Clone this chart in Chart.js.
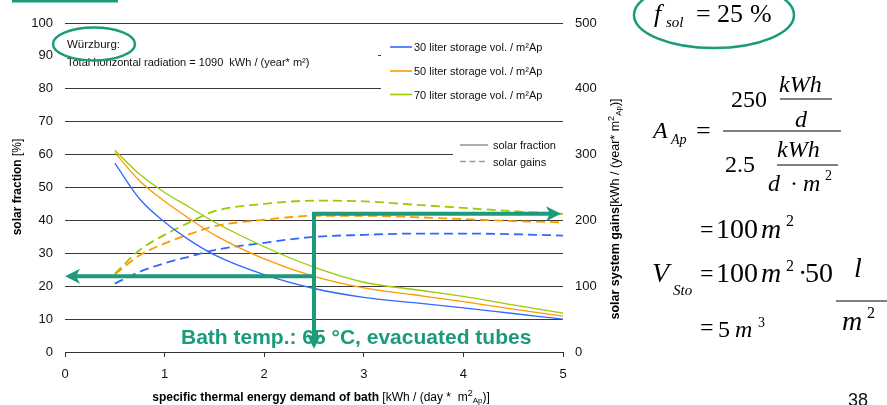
<!DOCTYPE html>
<html>
<head>
<meta charset="utf-8">
<title>Solar fraction and solar gains vs. bath energy demand</title>
<script src="https://cdn.jsdelivr.net/npm/chart.js@4.4.1/dist/chart.umd.min.js"></script>
<style>
  html, body { margin: 0; padding: 0; background: #ffffff; }
  #wrap { position: relative; width: 887px; height: 405px; overflow: hidden; }
  canvas { display: block; }
</style>
</head>
<body>
<div id="wrap"><canvas id="chart" width="887" height="405"></canvas></div>
<script>
// Specific thermal energy demand of the bath [kWh / (day * m²Ap)]
const demand = [0.5, 0.75, 1, 1.25, 1.5, 2, 2.5, 3, 3.5, 4, 4.5, 5];

// Solar fraction [%] per storage volume
const fraction30 = [57.4, 46.5, 39.5, 34, 29.5, 23.5, 19.3, 16.6, 15, 13.4, 11.7, 10];
const fraction50 = [60.6, 52, 45.8, 40.5, 35.6, 28.3, 23, 19.5, 17.4, 15.3, 13, 10.9];
const fraction70 = [61.3, 54, 48.5, 44, 39.5, 32, 25.8, 21.2, 19, 16.9, 14.3, 11.8];

// Solar system gains [kWh / (year * m²Ap)] per storage volume
const gains30 = [104, 122, 135, 145, 155, 166, 175, 178, 180, 180, 179, 177];
const gains50 = [118, 147, 165, 179, 191, 201, 207, 207, 205, 202, 199, 197];
const gains70 = [119, 155, 178, 197, 214, 225, 230, 229, 224, 219, 214, 210];

// Axis ticks
const fractionTicks = [0, 10, 20, 30, 40, 50, 60, 70, 80, 90, 100];
const gainsTicks = [0, 100, 200, 300, 400, 500];
const demandTicks = [0, 1, 2, 3, 4, 5];

// Series labels
const volumeLabels = ['30 liter storage vol. / m²Ap', '50 liter storage vol. / m²Ap', '70 liter storage vol. / m²Ap'];

// Design point used in the sizing example
const designDemand = 2.5;
const designFraction = 23;
const designGains = 210;

const BLUE = '#3366ff', ORANGE = '#ff9900', GREEN = '#99cc00';
const TEAL = '#1b9b7b';
const SANS = '"Liberation Sans", Arial, sans-serif';
const SERIF = '"Liberation Serif", "Times New Roman", serif';

const pts = (ys) => demand.map((x, i) => ({ x: x, y: ys[i] }));

function solid(label, ys, color) {
  return { label, data: pts(ys), yAxisID: 'y', borderColor: color, borderWidth: 1.3,
           pointRadius: 0, fill: false, cubicInterpolationMode: 'monotone' };
}
function dashed(label, ys, color) {
  return { label, data: pts(ys), yAxisID: 'y1', borderColor: color, borderWidth: 1.8,
           borderDash: [9, 5], pointRadius: 0, fill: false, cubicInterpolationMode: 'monotone' };
}

function txt(ctx, s, x, y, font, color, align) {
  ctx.font = font;
  ctx.fillStyle = color || '#000';
  ctx.textAlign = align || 'left';
  ctx.textBaseline = 'alphabetic';
  ctx.fillText(s, x, y);
}

// Draw a sequence of text runs (mixed weights, sub/superscripts) centred on x
function runs(ctx, parts, cx, y) {
  let total = 0;
  parts.forEach(p => { ctx.font = p.font; total += ctx.measureText(p.text).width; });
  let x = cx - total / 2;
  ctx.textAlign = 'left';
  ctx.textBaseline = 'alphabetic';
  parts.forEach(p => {
    ctx.font = p.font;
    ctx.fillStyle = '#000';
    ctx.fillText(p.text, x, y + (p.dy || 0));
    x += ctx.measureText(p.text).width;
  });
}

function arrowHead(ctx, tx, ty, dx, dy) {
  const len = 15, half = 7.5, notch = 4;
  const nx = -dy, ny = dx;
  ctx.beginPath();
  ctx.moveTo(tx, ty);
  ctx.lineTo(tx - dx * len + nx * half, ty - dy * len + ny * half);
  ctx.lineTo(tx - dx * (len - notch), ty - dy * (len - notch));
  ctx.lineTo(tx - dx * len - nx * half, ty - dy * len - ny * half);
  ctx.closePath();
  ctx.fill();
}

const decorations = {
  id: 'decorations',
  beforeDatasetsDraw(chart) {
    const ctx = chart.ctx;
    ctx.save();
    ctx.fillStyle = '#ffffff';
    // boxes behind the location note and the two legends
    ctx.fillRect(60, 35, 318, 37);
    ctx.fillRect(381, 28, 183, 91);
    ctx.fillRect(453, 135, 111, 35);
    ctx.restore();
  },
  afterDatasetsDraw(chart) {
    const ctx = chart.ctx;
    const xs = chart.scales.x, ys = chart.scales.y, y1 = chart.scales.y1;
    ctx.save();

    // Location note
    txt(ctx, 'Würzburg:', 67, 48, '11.5px ' + SANS, '#111');
    txt(ctx, 'Total horizontal radiation = 1090  kWh / (year* m²)', 67, 66, '11px ' + SANS, '#111');
    ctx.strokeStyle = TEAL; ctx.lineWidth = 2.5;
    ctx.beginPath(); ctx.ellipse(94, 44, 41, 16.5, 0, 0, Math.PI * 2); ctx.stroke();

    // Storage volume legend
    const cols = [BLUE, ORANGE, GREEN];
    const ly = [47, 71, 94.5];
    volumeLabels.forEach((l, i) => {
      ctx.strokeStyle = cols[i]; ctx.lineWidth = 1.6; ctx.setLineDash([]);
      ctx.beginPath(); ctx.moveTo(390, ly[i]); ctx.lineTo(412, ly[i]); ctx.stroke();
      txt(ctx, l, 414, ly[i] + 4, '11px ' + SANS, '#111');
    });

    // Line style legend
    ctx.strokeStyle = '#9a9a9a'; ctx.lineWidth = 1.6;
    ctx.beginPath(); ctx.moveTo(460, 145); ctx.lineTo(488, 145); ctx.stroke();
    ctx.setLineDash([6, 3.5]);
    ctx.beginPath(); ctx.moveTo(460, 161.5); ctx.lineTo(488, 161.5); ctx.stroke();
    ctx.setLineDash([]);
    txt(ctx, 'solar fraction', 493, 149, '11px ' + SANS, '#111');
    txt(ctx, 'solar gains', 493, 165.5, '11px ' + SANS, '#111');

    // Operating conditions
    txt(ctx, 'Bath temp.: 65 °C, evacuated tubes', 181, 344, 'bold 21px ' + SANS, TEAL);

    // Reading arrows for the design point
    const px = xs.getPixelForValue(designDemand);
    const pyF = ys.getPixelForValue(designFraction);
    const pyG = y1.getPixelForValue(designGains);
    const pyBottom = ys.getPixelForValue(1);
    const pxLeft = xs.getPixelForValue(0);
    const pxRight = xs.getPixelForValue(4.98);
    ctx.strokeStyle = TEAL; ctx.fillStyle = TEAL; ctx.lineWidth = 4; ctx.lineCap = 'butt';
    ctx.beginPath();
    ctx.moveTo(px, pyF); ctx.lineTo(pxLeft + 10, pyF);
    ctx.moveTo(px, pyG - 2); ctx.lineTo(px, pyBottom - 10);
    ctx.moveTo(px - 2, pyG); ctx.lineTo(pxRight - 10, pyG);
    ctx.stroke();
    arrowHead(ctx, pxLeft, pyF, -1, 0);
    arrowHead(ctx, px, pyBottom, 0, 1);
    arrowHead(ctx, pxRight, pyG, 1, 0);

    ctx.restore();
  },
  afterDraw(chart) {
    const ctx = chart.ctx;
    ctx.save();

    // Axis titles
    ctx.save();
    ctx.translate(17, 187); ctx.rotate(-Math.PI / 2);
    runs(ctx, [
      { text: 'solar fraction', font: 'bold 12px ' + SANS },
      { text: ' [%]', font: '12px ' + SANS }
    ], 0, 4);
    ctx.restore();

    ctx.save();
    ctx.translate(615, 209); ctx.rotate(-Math.PI / 2);
    runs(ctx, [
      { text: 'solar system gains', font: 'bold 12.5px ' + SANS },
      { text: '[kWh / (year* m', font: '12.5px ' + SANS },
      { text: '2', font: '9px ' + SANS, dy: -5 },
      { text: 'Ap', font: '8px ' + SANS, dy: 2 },
      { text: ')]', font: '12.5px ' + SANS }
    ], 0, 4);
    ctx.restore();

    runs(ctx, [
      { text: 'specific thermal energy demand of bath', font: 'bold 12px ' + SANS },
      { text: ' [kWh / (day *  m', font: '12px ' + SANS },
      { text: '2', font: '9px ' + SANS, dy: -5 },
      { text: 'Ap', font: '8px ' + SANS, dy: 2 },
      { text: ')]', font: '12px ' + SANS }
    ], 321, 401);

    // Header strip and page number
    ctx.fillStyle = TEAL;
    ctx.fillRect(12, 0, 106, 2.5);
    txt(ctx, '38', 848, 406, '18px ' + SANS, '#111');

    // Sizing example
    const it = (s) => 'italic ' + s + 'px ' + SERIF;
    const up = (s) => s + 'px ' + SERIF;
    const K = '#000';

    txt(ctx, 'f', 654, 22, it(26), K);
    txt(ctx, 'sol', 666, 27, it(15), K);
    txt(ctx, '=', 696, 22, up(26), K);
    txt(ctx, '25', 717, 22, up(26), K);
    txt(ctx, '%', 750, 22, up(26), K);
    ctx.strokeStyle = TEAL; ctx.lineWidth = 2.5;
    ctx.beginPath(); ctx.ellipse(714, 15, 80, 33, 0, 0, Math.PI * 2); ctx.stroke();

    ctx.strokeStyle = '#000'; ctx.lineWidth = 1.2;
    txt(ctx, 'A', 653, 138, it(24), K);
    txt(ctx, 'Ap', 671, 144, it(14), K);
    txt(ctx, '=', 696, 139, up(26), K);
    ctx.beginPath(); ctx.moveTo(723, 131); ctx.lineTo(841, 131); ctx.stroke();
    txt(ctx, '250', 731, 107, up(24), K);
    txt(ctx, 'kWh', 779, 92, it(24), K);
    ctx.beginPath(); ctx.moveTo(780, 99); ctx.lineTo(832, 99); ctx.stroke();
    txt(ctx, 'd', 795, 127, it(24), K);
    txt(ctx, '2.5', 725, 172, up(24), K);
    txt(ctx, 'kWh', 777, 157, it(24), K);
    ctx.beginPath(); ctx.moveTo(777, 165); ctx.lineTo(838, 165); ctx.stroke();
    txt(ctx, 'd', 768, 191, it(24), K);
    txt(ctx, '·', 790, 191, up(24), K);
    txt(ctx, 'm', 803, 191, it(24), K);
    txt(ctx, '2', 825, 180, up(14), K);

    txt(ctx, '=', 700, 237, up(24), K);
    txt(ctx, '100', 716, 238, up(28), K);
    txt(ctx, 'm', 761, 238, it(28), K);
    txt(ctx, '2', 786, 226, up(16), K);

    txt(ctx, 'V', 652, 282, it(28), K);
    txt(ctx, 'Sto', 673, 295, it(15), K);
    txt(ctx, '=', 700, 281, up(24), K);
    txt(ctx, '100', 716, 282, up(28), K);
    txt(ctx, 'm', 761, 282, it(28), K);
    txt(ctx, '2', 786, 271, up(16), K);
    txt(ctx, '·', 798, 282, up(28), K);
    txt(ctx, '50', 805, 282, up(28), K);
    txt(ctx, 'l', 854, 277, it(28), K);
    ctx.beginPath(); ctx.moveTo(836, 301); ctx.lineTo(887, 301); ctx.stroke();
    txt(ctx, 'm', 842, 330, it(28), K);
    txt(ctx, '2', 867, 318, up(16), K);

    txt(ctx, '=', 700, 335, up(24), K);
    txt(ctx, '5', 718, 337, up(24), K);
    txt(ctx, 'm', 735, 337, it(24), K);
    txt(ctx, '3', 758, 327, up(14), K);

    ctx.restore();
  }
};

new Chart(document.getElementById('chart'), {
  type: 'line',
  data: {
    datasets: [
      solid(volumeLabels[0], fraction30, BLUE),
      solid(volumeLabels[1], fraction50, ORANGE),
      solid(volumeLabels[2], fraction70, GREEN),
      dashed(volumeLabels[0], gains30, BLUE),
      dashed(volumeLabels[1], gains50, ORANGE),
      dashed(volumeLabels[2], gains70, GREEN)
    ]
  },
  options: {
    responsive: false,
    devicePixelRatio: 1,
    animation: false,
    layout: { padding: { top: 23, left: 0, right: 0, bottom: 0 } },
    plugins: { legend: { display: false }, tooltip: { enabled: false } },
    scales: {
      x: {
        type: 'linear', min: 0, max: 5,
        afterBuildTicks: (s) => { s.ticks = demandTicks.map(v => ({ value: v })); },
        afterFit: (s) => { s.height = 53; },
        grid: { drawOnChartArea: false, drawTicks: true, tickLength: 5, color: '#333' },
        border: { display: true, color: '#333', width: 1 },
        ticks: { padding: 10, color: '#111', font: { family: SANS, size: 13 } }
      },
      y: {
        position: 'left', min: 0, max: 100,
        afterBuildTicks: (s) => { s.ticks = fractionTicks.map(v => ({ value: v })); },
        afterFit: (s) => { s.width = 65; },
        grid: { drawTicks: false, color: '#3a3a3a', lineWidth: 1 },
        border: { display: false },
        ticks: { padding: 12, color: '#111', font: { family: SANS, size: 13 } }
      },
      y1: {
        position: 'right', min: 0, max: 500,
        afterBuildTicks: (s) => { s.ticks = gainsTicks.map(v => ({ value: v })); },
        afterFit: (s) => { s.width = 324; },
        grid: { display: false, drawTicks: false },
        border: { display: false },
        ticks: { padding: 12, color: '#111', font: { family: SANS, size: 13 } }
      }
    }
  },
  plugins: [decorations]
});
</script>
</body>
</html>
